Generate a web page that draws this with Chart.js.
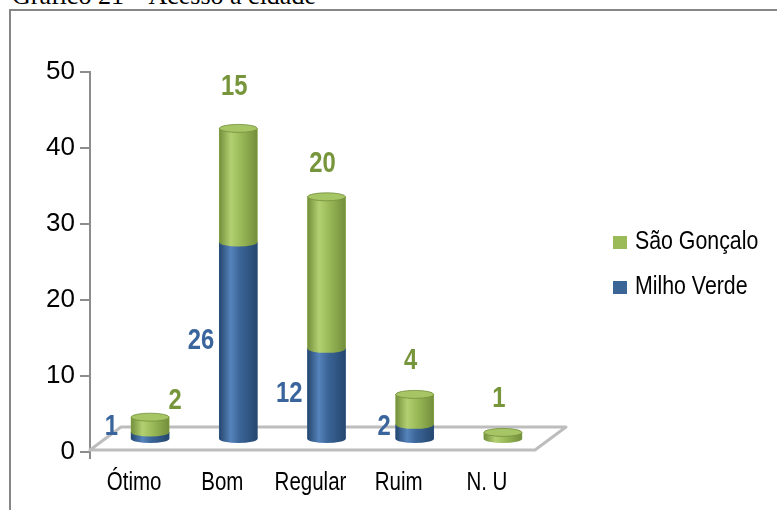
<!DOCTYPE html>
<html lang="pt">
<head>
<meta charset="utf-8">
<title>Acesso à cidade</title>
<script src="https://cdn.jsdelivr.net/npm/chart.js@4.4.1/dist/chart.umd.min.js"></script>
<style>
  html, body { margin: 0; padding: 0; background: #fff; overflow: hidden; }
  #wrap { position: relative; width: 777px; height: 510px; overflow: hidden; }
  #titulo { position: absolute; left: 12px; top: -17px; font-family: 'Liberation Serif', 'Times New Roman', serif; font-size: 26px; line-height: 25px; white-space: nowrap; color: #000; }
  #moldura { position: absolute; left: 9px; top: 9px; width: 800px; height: 600px; border-left: 2px solid #878787; border-top: 2px solid #878787; }
  canvas { position: absolute; left: 0; top: 0; }
</style>
</head>
<body>
<div id="wrap">
  <div id="titulo">Gráfico 21 – Acesso à cidade</div>
  <div id="moldura"></div>
  <canvas id="grafico" width="777" height="510"></canvas>
</div>
<script>
const categorias = ['Ótimo', 'Bom', 'Regular', 'Ruim', 'N. U'];
const milhoVerde = [1, 26, 12, 2, 0];
const saoGoncalo = [2, 15, 20, 4, 1];
const ticksY = [0, 10, 20, 30, 40, 50];

const SANS = "'Liberation Sans', Arial, sans-serif";
const ESTREITO = 0.82; // largura relativa de uma fonte condensada

// profundidade do piso em perspectiva; as colunas ficam no meio dele
const PISO = { dx: 31, dy: -23 };
const MEIO = { dx: 16, dy: -12 };

const paleta = {
  azul:  { base: '#3b6497', escuro: '#25476f', claro: '#5583bb', topo: '#5f8cc4', rotulo: '#3a659c' },
  verde: { base: '#9bbb59', escuro: '#738f3b', claro: '#b2d071', topo: '#a6c565', rotulo: '#77953a' }
};

// deslocamento extra de alguns rótulos (índice -> [dx, dy])
const ajusteAzul = { 0: [-8, 0] };
const ajusteVerde = { 0: [29, 17], 1: [0, -8] };

// texto comprimido na horizontal
function textoEstreito(ctx, txt, x, y, align) {
  ctx.save();
  ctx.translate(x, y);
  ctx.scale(ESTREITO, 1);
  ctx.textAlign = align;
  ctx.fillText(txt, 0, 0);
  ctx.restore();
}

function gradienteCorpo(ctx, x, w, c) {
  const g = ctx.createLinearGradient(x - w / 2, 0, x + w / 2, 0);
  g.addColorStop(0, c.escuro);
  g.addColorStop(0.3, c.claro);
  g.addColorStop(0.55, c.base);
  g.addColorStop(1, c.escuro);
  return g;
}

const piso = {
  id: 'piso',
  beforeDatasetsDraw(chart) {
    const { ctx, chartArea: a } = chart;
    const y0 = a.bottom - 2, x1 = a.right + 4;
    ctx.save();
    ctx.strokeStyle = '#bdbdbd';
    ctx.lineWidth = 3;
    ctx.lineJoin = 'round';
    ctx.beginPath();
    ctx.moveTo(a.left, y0);
    ctx.lineTo(x1, y0);
    ctx.lineTo(x1 + PISO.dx, y0 + PISO.dy);
    ctx.lineTo(a.left + PISO.dx, y0 + PISO.dy);
    ctx.closePath();
    ctx.stroke();
    // marca inicial do eixo das categorias
    ctx.strokeStyle = '#8c8c8c';
    ctx.lineWidth = 2;
    ctx.beginPath();
    ctx.moveTo(a.left, a.bottom);
    ctx.lineTo(a.left, a.bottom + 7);
    ctx.stroke();
    ctx.restore();
    // colunas desenhadas no meio da profundidade
    ctx.save();
    ctx.translate(MEIO.dx, MEIO.dy);
  },
  afterDatasetsDraw(chart) {
    const ctx = chart.ctx;
    const cores = [paleta.azul, paleta.verde];
    const ry = 4;
    categorias.forEach((_, i) => {
      chart.data.datasets.forEach((ds, d) => {
        const el = chart.getDatasetMeta(d).data[i];
        if (!el || !ds.data[i]) return;
        const { x, y, base, width } = el.getProps(['x', 'y', 'base', 'width'], true);
        const rx = width / 2;
        const c = cores[d];
        ctx.fillStyle = gradienteCorpo(ctx, x, width, c);
        ctx.beginPath();
        ctx.moveTo(x - rx, y);
        ctx.lineTo(x - rx, base);
        ctx.ellipse(x, base, rx, ry, 0, Math.PI, 0, true);
        ctx.lineTo(x + rx, y);
        ctx.closePath();
        ctx.fill();
        const topoDaPilha = chart.data.datasets.slice(d + 1).every(o => !o.data[i]);
        if (topoDaPilha) {
          ctx.fillStyle = c.topo;
          ctx.strokeStyle = c.escuro;
          ctx.lineWidth = 0.8;
          ctx.beginPath();
          ctx.ellipse(x, y, rx, ry, 0, 0, Math.PI * 2);
          ctx.fill();
          ctx.stroke();
        }
      });
    });

    // rótulos de valor
    ctx.font = `bold 29px ${SANS}`;
    ctx.textBaseline = 'middle';
    chart.getDatasetMeta(0).data.forEach((el, i) => {
      const v = milhoVerde[i];
      if (!v) return;
      const [ax, ay] = ajusteAzul[i] || [0, 0];
      const yMeio = Math.min((el.y + el.base) / 2, el.base - 12);
      ctx.fillStyle = paleta.azul.rotulo;
      textoEstreito(ctx, String(v), el.x - el.width / 2 - 5 + ax, yMeio + ay, 'right');
    });
    chart.getDatasetMeta(1).data.forEach((el, i) => {
      const v = saoGoncalo[i];
      if (!v) return;
      const [ax, ay] = ajusteVerde[i] || [0, 0];
      ctx.fillStyle = paleta.verde.rotulo;
      textoEstreito(ctx, String(v), el.x - 4 + ax, el.y - 33 + ay, 'center');
    });
    ctx.restore();
  }
};

const textos = {
  id: 'textos',
  afterDraw(chart) {
    const ctx = chart.ctx;
    ctx.save();
    ctx.textBaseline = 'middle';
    ctx.fillStyle = '#000';
    // nomes das categorias
    ctx.font = `25px ${SANS}`;
    const sx = chart.scales.x;
    categorias.forEach((c, i) => textoEstreito(ctx, c, sx.getPixelForTick(i), 483, 'center'));
    // legenda
    const itens = [
      { texto: chart.data.datasets[1].label, cor: paleta.verde.base, y: 242 },
      { texto: chart.data.datasets[0].label, cor: paleta.azul.base, y: 287 }
    ];
    ctx.font = `26px ${SANS}`;
    itens.forEach(it => {
      ctx.fillStyle = it.cor;
      ctx.fillRect(613, it.y - 6, 14, 13);
      ctx.fillStyle = '#000';
      textoEstreito(ctx, it.texto, 635, it.y, 'left');
    });
    ctx.restore();
  }
};

new Chart(document.getElementById('grafico'), {
  type: 'bar',
  data: {
    labels: categorias,
    datasets: [
      { label: 'Milho Verde', data: milhoVerde, backgroundColor: paleta.azul.base },
      { label: 'São Gonçalo', data: saoGoncalo, backgroundColor: paleta.verde.base }
    ]
  },
  options: {
    responsive: false,
    animation: false,
    barThickness: 38,
    layout: { padding: { top: 72, right: 246, left: 0, bottom: 0 } },
    plugins: { legend: { display: false }, tooltip: { enabled: false } },
    scales: {
      x: {
        stacked: true,
        grid: { display: false },
        border: { display: false },
        ticks: { display: false },
        afterFit: s => { s.height = 58; }
      },
      y: {
        stacked: true,
        min: 0,
        max: 50,
        afterBuildTicks: s => { s.ticks = ticksY.map(v => ({ value: v })); },
        grid: { drawOnChartArea: false, tickLength: 10, color: '#8c8c8c', lineWidth: 2 },
        border: { color: '#8c8c8c', width: 2 },
        ticks: { color: '#000', padding: 5, font: { family: SANS, size: 26 } },
        afterFit: s => { s.width = 90; }
      }
    }
  },
  plugins: [piso, textos]
});
</script>
</body>
</html>
